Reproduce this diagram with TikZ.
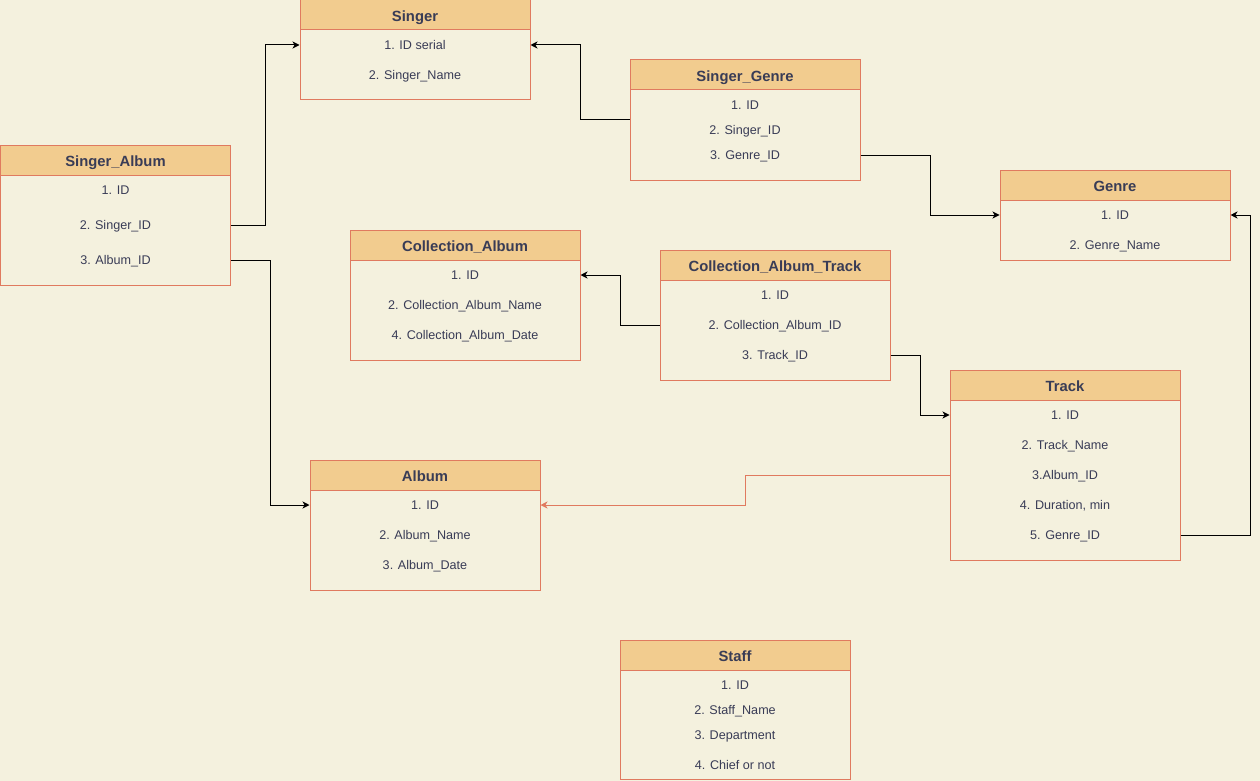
\documentclass[tikz,border=0pt]{standalone}
\usepackage{fontspec}
\setmainfont{Liberation Sans}
\usetikzlibrary{arrows.meta}
\definecolor{bg}{HTML}{F4F1DE}
\definecolor{hfill}{HTML}{F2CC8F}
\definecolor{stroke}{HTML}{E07A5F}
\definecolor{ink}{HTML}{393C56}
\tikzset{
  tbl/.style={draw=stroke, line width=1pt, fill=bg, rectangle, minimum width=230pt, inner sep=0pt},
  hdr/.style={draw=stroke, line width=1pt, fill=hfill, rectangle, minimum width=230pt, minimum height=30pt, inner sep=0pt,
    text height=13.6pt, text depth=0pt,
    text=ink, font=\fontsize{14.8}{17}\selectfont\bfseries},
  row/.style={inner sep=0pt, text height=9.6pt, text depth=0pt, text=ink, font=\fontsize{12.6}{15}\selectfont},
  link/.style={draw=black, line width=1pt, -{Stealth[length=7pt,width=7pt,inset=2pt]}},
  redlink/.style={draw=stroke, line width=1pt, -{Stealth[length=7pt,width=7pt,inset=2pt]}},
}
\begin{document}
\begin{tikzpicture}[x=1pt,y=-1pt]
\fill[bg] (0,0) rectangle (1260,781);
\useasboundingbox (0,0) rectangle (1260,781);

% Singer
\node[tbl, minimum height=100pt] (singer) at (415,50) {};
\node[hdr] (singerH) at (415,15) {Singer};
\node[row] (singer1) at (415,45) {1. ID serial};
\node[row] (singer2) at (415,75) {2. Singer\_Name};

% Singer_Genre
\node[tbl, minimum height=120pt] (sg) at (745,120) {};
\node[hdr] (sgH) at (745,75) {Singer\_Genre};
\node[row] (sg1) at (745,105) {1. ID};
\node[row] (sg2) at (745,130) {2. Singer\_ID};
\node[row] (sg3) at (745,155) {3. Genre\_ID};

% Singer_Album
\node[tbl, minimum height=140pt] (sa) at (115.5,215) {};
\node[hdr] (saH) at (115.5,160) {Singer\_Album};
\node[row] (sa1) at (115.5,190) {1. ID};
\node[row] (sa2) at (115.5,225) {2. Singer\_ID};
\node[row] (sa3) at (115.5,260) {3. Album\_ID};

% Genre
\node[tbl, minimum height=90pt] (genre) at (1115,215) {};
\node[hdr] (genreH) at (1115,185) {Genre};
\node[row] (genre1) at (1115,215) {1. ID};
\node[row] (genre2) at (1115,245) {2. Genre\_Name};

% Collection_Album
\node[tbl, minimum height=130pt] (ca) at (465,295) {};
\node[hdr] (caH) at (465,245) {Collection\_Album};
\node[row] (ca1) at (465,275) {1. ID};
\node[row] (ca2) at (465,305) {2. Collection\_Album\_Name};
\node[row] (ca3) at (465,335) {4. Collection\_Album\_Date};

% Collection_Album_Track
\node[tbl, minimum height=130pt] (cat) at (775,315) {};
\node[hdr] (catH) at (775,265) {Collection\_Album\_Track};
\node[row] (cat1) at (775,295) {1. ID};
\node[row] (cat2) at (775,325) {2. Collection\_Album\_ID};
\node[row] (cat3) at (775,355) {3. Track\_ID};

% Track
\node[tbl, minimum height=190pt] (track) at (1065,465) {};
\node[hdr] (trackH) at (1065,385) {Track};
\node[row] (track1) at (1065,415) {1. ID};
\node[row] (track2) at (1065,445) {2. Track\_Name};
\node[row] (track3) at (1065,475) {3.Album\_ID};
\node[row] (track4) at (1065,505) {4. Duration, min};
\node[row] (track5) at (1065,535) {5. Genre\_ID};

% Album
\node[tbl, minimum height=130pt] (album) at (425,525) {};
\node[hdr] (albumH) at (425,475) {Album};
\node[row] (album1) at (425,505) {1. ID};
\node[row] (album2) at (425,535) {2. Album\_Name};
\node[row] (album3) at (425,565) {3. Album\_Date};

% Staff
\node[tbl, minimum height=139.5pt] (staff) at (735,709.75) {};
\node[hdr] (staffH) at (735,655) {Staff};
\node[row] (staff1) at (735,685) {1. ID};
\node[row] (staff2) at (735,710) {2. Staff\_Name};
\node[row] (staff3) at (735,735) {3. Department};
\node[row] (staff4) at (735,765) {4. Chief or not};

% Connectors
\draw[link] (sa.east |- sa2) -- (265,225) |- (singer.west |- singer1);
\draw[link] (sg.west |- 0,120) -- (580,120) |- (singer.east |- singer1);
\draw[link] (sg.east |- sg3) -- (930,155) |- (genre.west |- genre1);
\draw[link] (sa.east |- sa3) -- (270,260) |- (album.west |- album1);
\draw[link] (cat.west |- cat2) -- (620,325) |- (ca.east |- ca1);
\draw[link] (cat.east |- cat3) -- (920,355) |- (track.west |- track1);
\draw[redlink] (track.west |- track3) -- (745,475) |- (album.east |- album1);
\draw[link] (track.east |- track5) -- (1250,535) |- (genre.east |- genre1);
\end{tikzpicture}
\end{document}
